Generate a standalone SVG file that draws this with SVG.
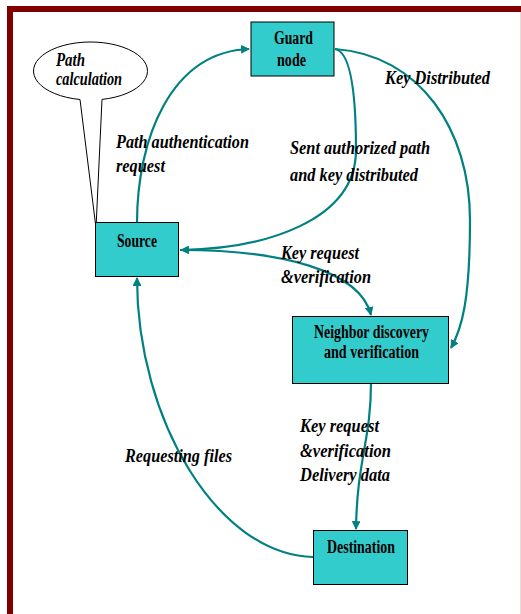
<svg xmlns="http://www.w3.org/2000/svg" width="521" height="614" viewBox="0 0 521 614">
<defs>
<style>
.box{fill:#33CCCC;stroke:#000;stroke-width:1}
.nl{font-family:"Liberation Serif","Times New Roman",serif;font-weight:bold;font-size:18px;fill:#000}
.el{font-family:"Liberation Serif","Times New Roman",serif;font-weight:bold;font-style:italic;font-size:19px;fill:#000}
.edge{fill:none;stroke:#008080;stroke-width:2.2}
</style>
<marker id="ah" viewBox="0 0 10 10" refX="9" refY="5" markerWidth="4" markerHeight="4" orient="auto" markerUnits="strokeWidth">
<path d="M0,0 L10,5 L0,10 Z" fill="#008080"/>
</marker>
</defs>
<rect x="0" y="0" width="521" height="614" fill="#fff"/>
<g id="border">
<rect x="7" y="6" width="514" height="6" fill="#800000"/>
<rect x="7" y="6" width="6" height="608" fill="#800000"/>
<line x1="520.5" y1="12" x2="520.5" y2="614" stroke="#eed8d8" stroke-width="1"/>
</g>
<g id="callout">
<path d="M80,99.5 A57,29 0 1 1 102,99.4 L96,228 Z" fill="#fff" stroke="#000" stroke-width="1"/>
<text class="el" x="56" y="66" font-size="15" textLength="29" lengthAdjust="spacingAndGlyphs">Path</text>
<text class="el" x="56" y="85" font-size="15" textLength="66" lengthAdjust="spacingAndGlyphs">calculation</text>
</g>
<g id="connectors">
<path class="edge" d="M137,223 C137,140 170,52 249,49" marker-end="url(#ah)"/>
<path class="edge" d="M335,49 C352,52 356,100 356,150 C356,222 262,249 181,250" marker-end="url(#ah)"/>
<path class="edge" d="M335,49 C420,55 470,130 470,220 C470,300 462,328 451,348" marker-end="url(#ah)"/>
<path class="edge" d="M180,250 C280,250 360,270 371,315" marker-end="url(#ah)"/>
<path class="edge" d="M371,383 C371,440 357,460 356,529" marker-end="url(#ah)"/>
<path class="edge" d="M313,557 C218,555 137,420 137,278" marker-end="url(#ah)"/>
</g>
<g id="guard">
<rect class="box" x="251" y="22" width="83" height="54"/>
<text class="nl" x="274" y="44" textLength="39" lengthAdjust="spacingAndGlyphs">Guard</text>
<text class="nl" x="277" y="66" textLength="29" lengthAdjust="spacingAndGlyphs">node</text>
</g>
<g id="source">
<rect class="box" x="95.5" y="222.5" width="83" height="54"/>
<text class="nl" x="117" y="247" textLength="40" lengthAdjust="spacingAndGlyphs">Source</text>
</g>
<g id="neighbor">
<rect class="box" x="292.5" y="316.5" width="156" height="67"/>
<text class="nl" x="314" y="338" textLength="115" lengthAdjust="spacingAndGlyphs">Neighbor discovery</text>
<text class="nl" x="324" y="358" textLength="95" lengthAdjust="spacingAndGlyphs">and verification</text>
</g>
<g id="destination">
<rect class="box" x="313.5" y="530.5" width="94" height="54"/>
<text class="nl" x="327" y="553" textLength="68" lengthAdjust="spacingAndGlyphs">Destination</text>
</g>
<g id="labels">
<text class="el" x="385" y="84" font-size="17" textLength="105" lengthAdjust="spacingAndGlyphs">Key Distributed</text>
<text class="el" x="116" y="148" textLength="133" lengthAdjust="spacingAndGlyphs">Path authentication</text>
<text class="el" x="116" y="172" textLength="49" lengthAdjust="spacingAndGlyphs">request</text>
<text class="el" x="290" y="154" textLength="140" lengthAdjust="spacingAndGlyphs">Sent authorized path</text>
<text class="el" x="290" y="181" textLength="128" lengthAdjust="spacingAndGlyphs">and key distributed</text>
<text class="el" x="281" y="259" textLength="78" lengthAdjust="spacingAndGlyphs">Key request</text>
<text class="el" x="281" y="283" textLength="90" lengthAdjust="spacingAndGlyphs">&amp;verification</text>
<text class="el" x="125" y="462" textLength="107" lengthAdjust="spacingAndGlyphs">Requesting files</text>
<text class="el" x="300" y="432" textLength="79" lengthAdjust="spacingAndGlyphs">Key request</text>
<text class="el" x="300" y="457" textLength="91" lengthAdjust="spacingAndGlyphs">&amp;verification</text>
<text class="el" x="300" y="481" textLength="90" lengthAdjust="spacingAndGlyphs">Delivery data</text>
</g>
</svg>
